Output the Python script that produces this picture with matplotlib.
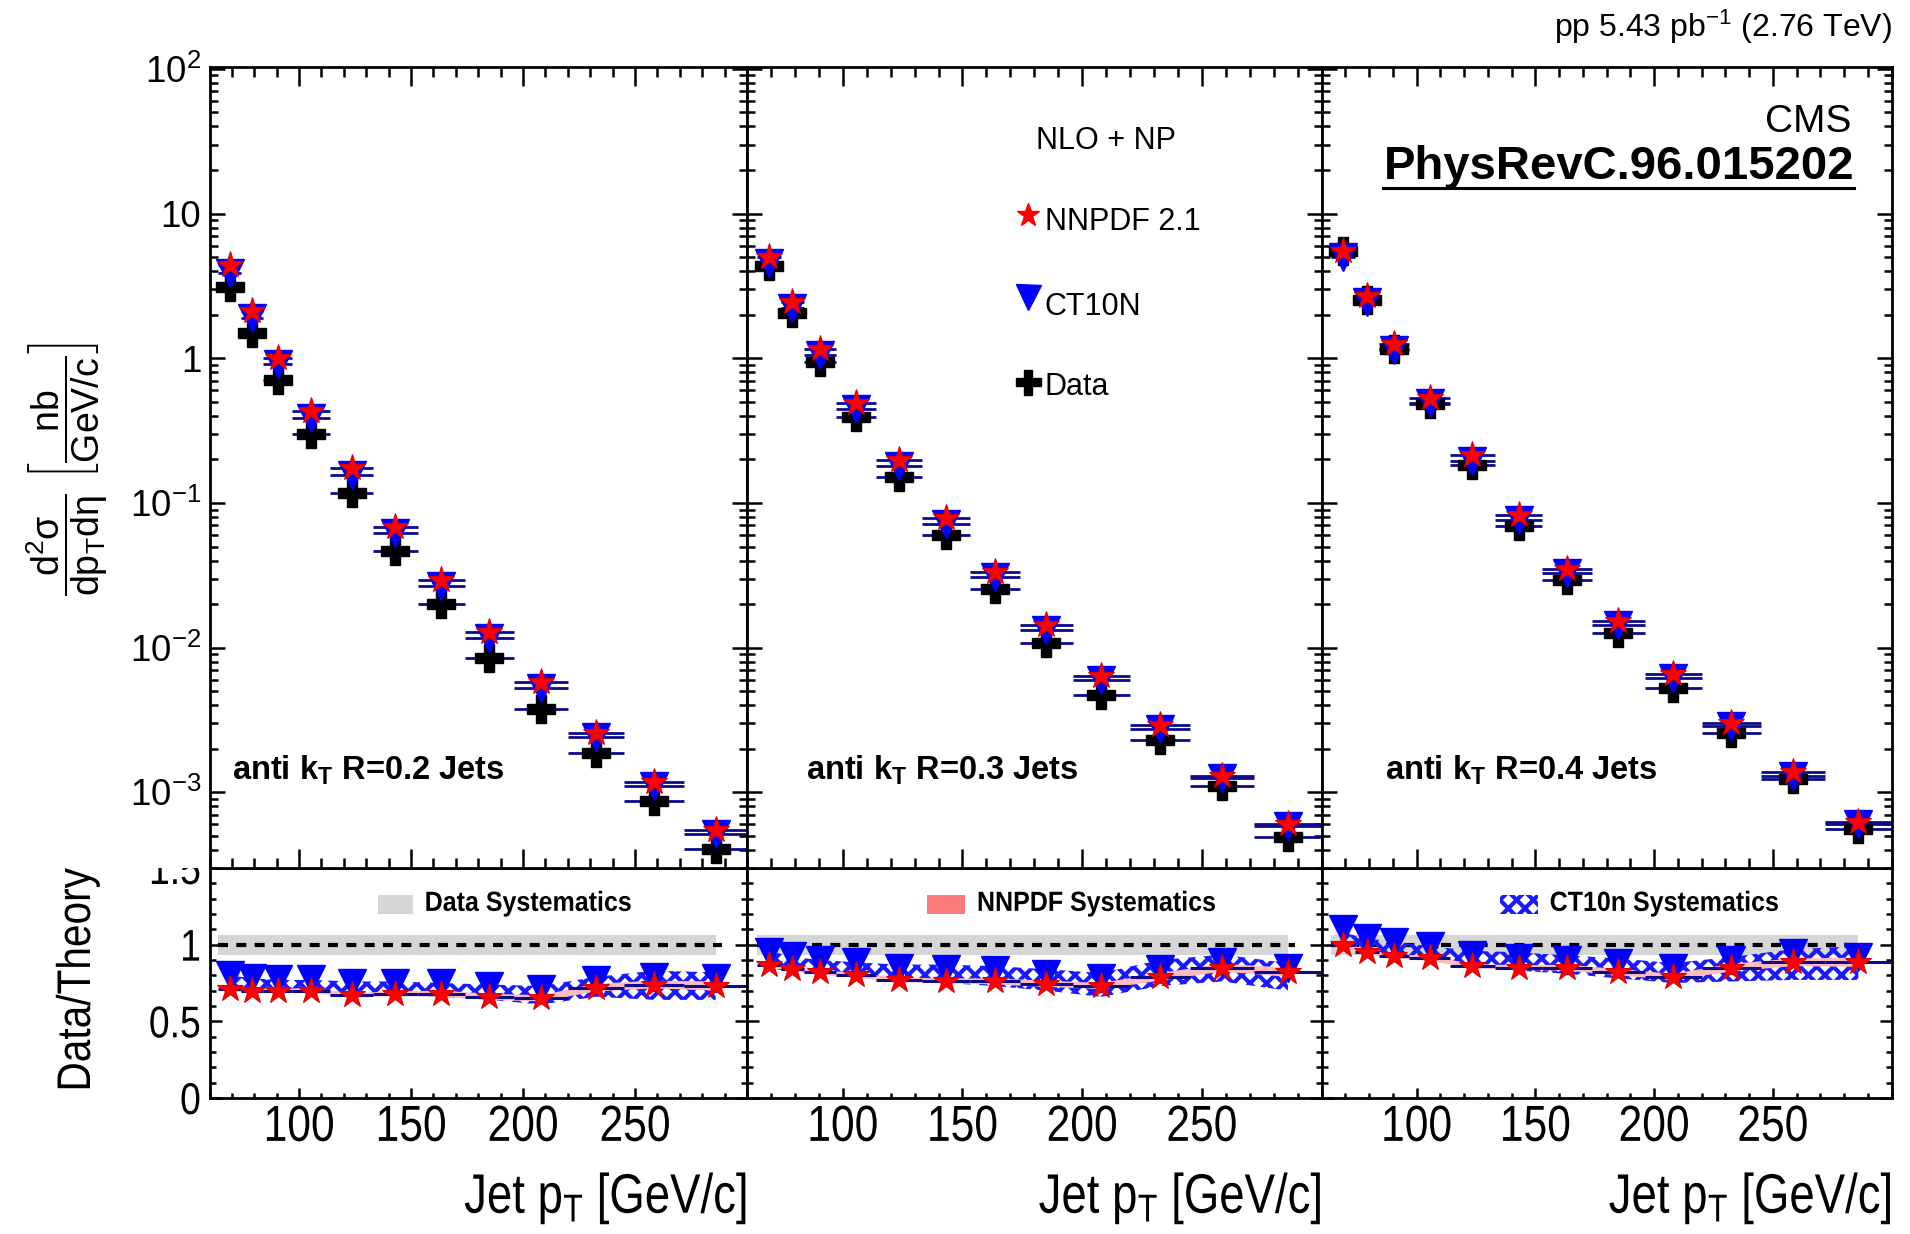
"""Inclusive jet cross sections in pp at 2.76 TeV for anti-kT R = 0.2, 0.3, 0.4,
compared with NLO+NP predictions (NNPDF 2.1, CT10N), with data/theory ratios.
"""

import matplotlib

matplotlib.use("Agg")
import matplotlib.pyplot as plt
import numpy as np
from matplotlib import font_manager
from matplotlib.lines import Line2D
from matplotlib.patches import Rectangle
from matplotlib.patheffects import AbstractPathEffect
from matplotlib.ticker import FuncFormatter, LogLocator, MultipleLocator, NullFormatter
from matplotlib.transforms import Affine2D


def installed(name):
    try:
        font_manager.findfont(font_manager.FontProperties(family=name), fallback_to_default=False)
        return True
    except ValueError:
        return False


SANS = "Liberation Sans" if installed("Liberation Sans") else "DejaVu Sans"


class Condensed(AbstractPathEffect):
    """Squeeze glyph outlines along the text direction (the ratio pad uses narrow type)."""

    def __init__(self, factor, pivot=0.0):
        super().__init__()
        self.factor = factor
        self.pivot = pivot

    def draw_path(self, renderer, gc, tpath, affine, rgbFace=None):
        ext = tpath.get_extents()
        x0 = ext.x0 + self.pivot * ext.width
        squeeze = Affine2D().translate(-x0, 0).scale(self.factor, 1).translate(x0, 0)
        renderer.draw_path(gc, tpath, squeeze + affine, rgbFace)


# jet pT bin edges (GeV/c)
pt_edges = [64, 74, 84, 97, 114, 133, 153, 174, 196, 220, 245, 272, 300]

# measured d2sigma/dpT deta (nb / GeV/c)
xsec_r02 = [3.11, 1.49, 0.708, 0.301, 0.117, 0.0466, 0.0201, 0.00845, 0.00374, 0.00186, 0.000875, 0.000404]
xsec_r03 = [4.36, 2.05, 0.946, 0.395, 0.152, 0.0600, 0.0255, 0.0107, 0.00468, 0.00230, 0.00111, 0.000494]
xsec_r04 = [5.55, 2.54, 1.16, 0.482, 0.183, 0.0698, 0.0295, 0.0126, 0.00522, 0.00258, 0.00123, 0.000555]

# data / NLO+NP ratios
nnpdf_ratio_r02 = [0.71, 0.70, 0.70, 0.70, 0.67, 0.68, 0.68, 0.66, 0.65, 0.72, 0.74, 0.73]
nnpdf_ratio_r03 = [0.87, 0.84, 0.82, 0.80, 0.77, 0.765, 0.76, 0.745, 0.73, 0.79, 0.85, 0.82]
nnpdf_ratio_r04 = [1.00, 0.95, 0.925, 0.91, 0.86, 0.85, 0.85, 0.82, 0.79, 0.85, 0.885, 0.885]
ct10_ratio_r02 = [0.80, 0.78, 0.775, 0.775, 0.75, 0.75, 0.75, 0.73, 0.71, 0.77, 0.79, 0.78]
ct10_ratio_r03 = [0.955, 0.925, 0.90, 0.885, 0.85, 0.84, 0.835, 0.81, 0.785, 0.84, 0.89, 0.85]
ct10_ratio_r04 = [1.10, 1.045, 1.02, 0.99, 0.935, 0.915, 0.90, 0.88, 0.85, 0.90, 0.945, 0.92]

# CT10n systematic band on the ratio (low / high)
ct10_lo_r02 = [0.72, 0.71, 0.70, 0.70, 0.68, 0.67, 0.66, 0.64, 0.61, 0.66, 0.64, 0.64]
ct10_hi_r02 = [0.80, 0.78, 0.77, 0.77, 0.76, 0.76, 0.75, 0.74, 0.73, 0.79, 0.83, 0.82]
ct10_lo_r03 = [0.85, 0.82, 0.81, 0.79, 0.77, 0.75, 0.73, 0.70, 0.66, 0.73, 0.76, 0.70]
ct10_hi_r03 = [0.96, 0.92, 0.90, 0.885, 0.87, 0.87, 0.86, 0.84, 0.815, 0.90, 0.935, 0.88]
ct10_lo_r04 = [1.00, 0.96, 0.94, 0.90, 0.86, 0.83, 0.81, 0.78, 0.75, 0.76, 0.77, 0.77]
ct10_hi_r04 = [1.08, 1.04, 1.02, 0.99, 0.96, 0.95, 0.93, 0.91, 0.88, 0.92, 0.97, 0.99]

# relative NNPDF and data systematic uncertainties
nnpdf_syst = [0.015, 0.015, 0.015, 0.015, 0.015, 0.015, 0.02, 0.02, 0.02, 0.025, 0.025, 0.03]
data_syst = [0.065, 0.065, 0.065, 0.065, 0.065, 0.065, 0.065, 0.065, 0.065, 0.065, 0.065, 0.065]

radius_labels = ["0.2", "0.3", "0.4"]
syst_labels = ["Data Systematics", "NNPDF Systematics", "CT10n Systematics"]

plt.rcParams.update({
    "font.family": [SANS, "DejaVu Sans"],
    "mathtext.fontset": "custom",
    "mathtext.rm": SANS,
    "mathtext.it": SANS,
    "mathtext.bf": SANS + ":bold",
    "mathtext.default": "regular",
    "hatch.linewidth": 3.0,
    "axes.linewidth": 2.0,
})

NAVY = "#0b0b8c"
RED = "#ff0000"
BLUE = "#0000ff"
GRAY_BAND = dict(facecolor="#d6d6d6", edgecolor="none", linewidth=0)
RED_BAND = dict(facecolor="#ffbcbc", edgecolor="none", linewidth=0)
BLUE_BAND = dict(facecolor="none", edgecolor="#1a1aff", hatch="xx", linewidth=0)
legend_styles = [GRAY_BAND, dict(RED_BAND, facecolor="#ff7a7a"), BLUE_BAND]

# pad geometry in pixels
W, H = 1910, 1234
PAD_X = [(209.5, 747.0), (747.0, 1321.5), (1321.5, 1891.6)]
TOP, MID, BOTTOM = 67.0, 868.0, 1098.0


def box(x0, x1, y0, y1):
    return [x0 / W, 1 - y1 / H, (x1 - x0) / W, (y1 - y0) / H]


def decade(v, _):
    e = int(round(np.log10(v)))
    if e == 0:
        return "1"
    if e == 1:
        return "10"
    return rf"$10^{{{e}}}$"


edges = np.array(pt_edges, dtype=float)
centers = 0.5 * (edges[:-1] + edges[1:])
half_w = 0.5 * np.diff(edges)

fig = plt.figure(figsize=(W / 100, H / 100), dpi=100)

panels = [
    (xsec_r02, nnpdf_ratio_r02, ct10_ratio_r02, ct10_lo_r02, ct10_hi_r02),
    (xsec_r03, nnpdf_ratio_r03, ct10_ratio_r03, ct10_lo_r03, ct10_hi_r03),
    (xsec_r04, nnpdf_ratio_r04, ct10_ratio_r04, ct10_lo_r04, ct10_hi_r04),
]

for i, (xsec, r_nn, r_ct, ct_lo, ct_hi) in enumerate(panels):
    x0, x1 = PAD_X[i]
    data = np.array(xsec)
    r_nn = np.array(r_nn)
    r_ct = np.array(r_ct)
    th_nn = data / r_nn
    th_ct = data / r_ct

    # ---- spectra ----
    ax = fig.add_axes(box(x0, x1, TOP, MID))
    ax.set_zorder(2)
    ax.set_yscale("log")
    ax.set_xlim(60, 300)
    ax.set_ylim(3e-4, 103)
    for y in (th_nn, th_ct, data):
        ax.errorbar(centers, y, xerr=half_w, fmt="none", ecolor=NAVY, elinewidth=2.0, capsize=0, zorder=2)
    ax.plot(centers, data, ls="none", marker="P", ms=19.5, color="black", zorder=3)
    ax.plot(centers, th_ct, ls="none", marker="v", ms=19.5, color=BLUE, zorder=4)
    ax.plot(centers, th_nn, ls="none", marker="*", ms=20, color=RED, mec="#dd0000", mew=0.8, zorder=5)

    ax.set_xticks([100, 150, 200, 250])
    ax.xaxis.set_minor_locator(MultipleLocator(10))
    ax.yaxis.set_major_locator(LogLocator(base=10, numticks=12))
    ax.yaxis.set_minor_locator(LogLocator(base=10, subs=np.arange(2, 10), numticks=30))
    ax.yaxis.set_major_formatter(FuncFormatter(decade))
    ax.yaxis.set_minor_formatter(NullFormatter())
    ax.tick_params(which="both", direction="in", top=True, right=True, width=1.8,
                   labelbottom=False, labelleft=(i == 0))
    ax.tick_params(axis="y", which="major", length=11, labelsize=26.5, pad=6)
    ax.tick_params(axis="y", which="minor", length=5.5)
    ax.tick_params(axis="x", which="major", length=13.7)
    ax.tick_params(axis="x", which="minor", length=7)

    ax.text(0.041 + [0, 0.062, 0.070][i], 0.110,
            rf"anti k$_{{T}}$ R={radius_labels[i]} Jets",
            transform=ax.transAxes, fontsize=23.5, fontweight="bold", va="baseline")

    # ---- ratio ----
    axr = fig.add_axes(box(x0, x1, MID, BOTTOM))
    axr.set_zorder(0)
    axr.set_xlim(60, 300)
    axr.set_ylim(0, 1.5)

    band_x = np.concatenate(([edges[0]], centers[1:]))
    syst = np.array(data_syst)
    axr.fill_between(band_x, 1 - syst, 1 + syst, zorder=1, **GRAY_BAND)
    axr.hlines(1.0, edges[0], centers[-1] + 3, colors="black", linewidth=3.0,
               linestyles=(0, (2.4, 2.0)), zorder=2)
    axr.fill_between(centers, ct_lo, ct_hi, zorder=3, **BLUE_BAND)
    nn_err = np.array(nnpdf_syst)
    axr.fill_between(centers, r_nn - nn_err, r_nn + nn_err, zorder=3, **RED_BAND)
    axr.errorbar(centers, r_nn, xerr=half_w, fmt="none", ecolor=NAVY, elinewidth=2.2, capsize=0, zorder=4)
    axr.plot(centers, r_ct, ls="none", marker="v", ms=20, color=BLUE, zorder=5)
    axr.plot(centers, r_nn, ls="none", marker="*", ms=20, color=RED, mec="#dd0000", mew=0.8, zorder=6)

    axr.set_xticks([100, 150, 200, 250], ["100", "150", "200", "250"])
    axr.xaxis.set_minor_locator(MultipleLocator(10))
    axr.set_yticks([0, 0.5, 1.0, 1.5], ["0", "0.5", "1", "1.5"])
    axr.yaxis.set_minor_locator(MultipleLocator(0.1))
    axr.tick_params(which="both", direction="in", top=False, right=True, width=1.8,
                    labelleft=(i == 0))
    axr.tick_params(axis="y", which="major", length=8.6, pad=6, labelsize=32)
    axr.tick_params(axis="y", which="minor", length=4.3)
    axr.tick_params(axis="x", which="major", length=7.2, pad=3.5, labelsize=36.5)
    axr.tick_params(axis="x", which="minor", length=3.6)
    for tick in axr.xaxis.get_major_ticks():
        tick.label1.set_path_effects([Condensed(0.84, 0.5)])
    for tick in axr.yaxis.get_major_ticks():
        tick.label1.set_path_effects([Condensed(0.84, 1.0)])

    axr.add_patch(Rectangle((0.313, 0.802), 0.066, 0.081, transform=axr.transAxes,
                            zorder=5, **legend_styles[i]))
    axr.text(0.40, 0.844, syst_labels[i], transform=axr.transAxes, va="center",
             fontsize=20, fontweight="bold", path_effects=[Condensed(0.9, 0.0)])

    fig.text(x1 / W, 1 - 1213 / H, r"Jet p$_{T}$ [GeV/c]", ha="right", va="baseline",
             fontsize=40, path_effects=[Condensed(0.82, 1.0)])

    if i == 1:
        ax.text(0.6255, 0.9076, "NLO + NP", transform=ax.transAxes, ha="center", va="center", fontsize=22)
        legend_rows = [
            ("*", RED, 17, 0.8152, 0.8071, "NNPDF 2.1"),
            ("v", BLUE, 18, 0.7129, 0.7004, "CT10N"),
            ("P", "black", 18, 0.6071, 0.5999, "Data"),
        ]
        for marker, color, ms, ym, yt, label in legend_rows:
            ax.plot([0.4886], [ym], marker=marker, ms=ms, color=color, ls="none",
                    transform=ax.transAxes, clip_on=False, zorder=6)
            ax.text(0.5187, yt, label, transform=ax.transAxes, va="center", fontsize=22)

    if i == 2:
        ax.text(0.929, 0.931, "CMS", transform=ax.transAxes, ha="right", va="center", fontsize=28)
        ref = ax.text(0.934, 0.875, "PhysRevC.96.015202", transform=ax.transAxes,
                      ha="right", va="center", fontsize=34, fontweight="bold")
        bb = ref.get_window_extent(fig.canvas.get_renderer()).transformed(fig.transFigure.inverted())
        fig.add_artist(Line2D([bb.x0, bb.x1], [bb.y0 + 0.001, bb.y0 + 0.001],
                              transform=fig.transFigure, color="black", linewidth=2.2, zorder=4))

# the upper pad covers the top of the ratio's 1.5 label
fig.add_artist(Rectangle((0, 1 - MID / H), PAD_X[0][0] / W, MID / H, transform=fig.transFigure,
                         facecolor="white", edgecolor="none", zorder=1))

fig.text(0.035, 1 - 469 / H,
         r"$\dfrac{d^{2}\sigma}{dp_{T}d\eta}\ \left[\dfrac{nb}{GeV/c}\right]$",
         rotation=90, ha="center", va="center", fontsize=27)
fig.text(78 / W, 1 - 980 / H, "Data/Theory", rotation=90, ha="center", va="center",
         fontsize=34, path_effects=[Condensed(0.86, 0.5)])
fig.text(PAD_X[2][1] / W, 1 - 36.5 / H, r"pp 5.43 pb$^{-1}$ (2.76 TeV)",
         ha="right", va="baseline", fontsize=23)

fig.savefig("out.png", dpi=100)
